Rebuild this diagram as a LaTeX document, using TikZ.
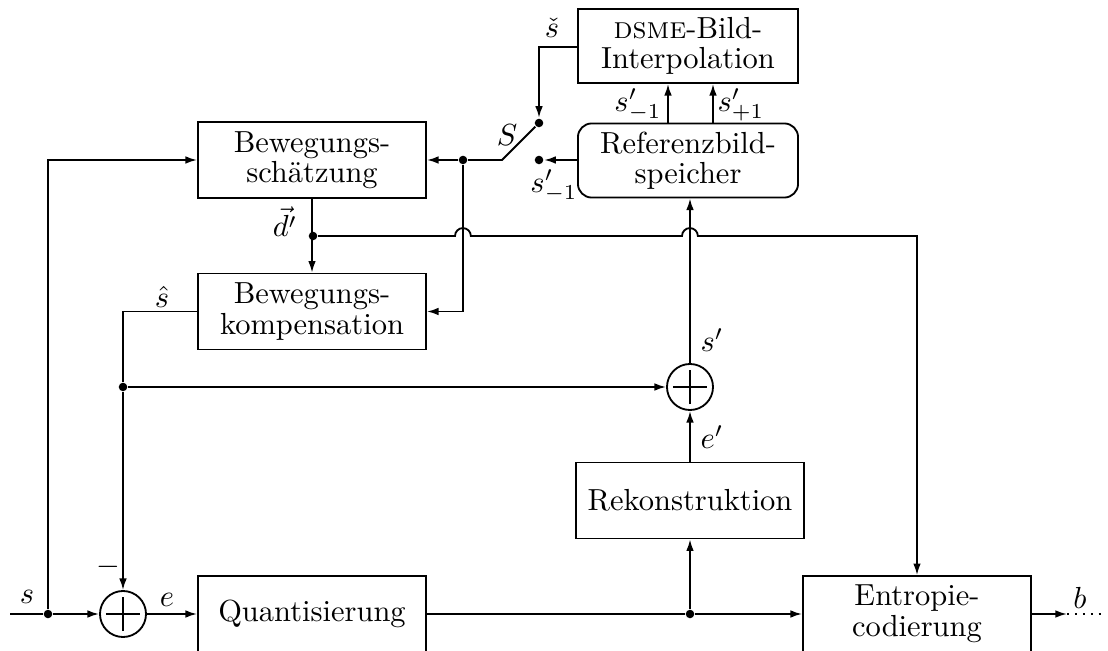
\documentclass[tikz,border=0pt]{standalone}
\usetikzlibrary{arrows.meta}
\begin{document}
\begin{tikzpicture}[x=0.328pt,y=-0.328pt,line width=0.6pt,
  >={Latex[length=3.8pt,width=2.5pt]},
  every node/.style={font=\fontsize{10pt}{10pt}\selectfont},
  block/.style={draw,rectangle,minimum width=74.8pt,minimum height=24.9pt,align=center,inner sep=0pt},
  topblock/.style={block,minimum width=72.2pt,minimum height=24.3pt},
  store/.style={topblock,rounded corners=4.5pt},
  sumnode/.style={circle,draw,minimum size=15.1pt,inner sep=0pt,
    path picture={
      \draw ([xshift=-5.6pt]path picture bounding box.center) -- ([xshift=5.6pt]path picture bounding box.center);
      \draw ([yshift=-5.6pt]path picture bounding box.center) -- ([yshift=5.6pt]path picture bounding box.center);}},
  dot/.style={circle,fill,inner sep=0pt,minimum size=2.8pt},
  lbl/.style={inner sep=0pt},
  hop/.style={insert path={arc[start angle=180,end angle=0,radius=2.6pt]}}]
\useasboundingbox (0,0) rectangle (1108,651);

% blocks
\node[block] (bs) at (312,160) {Bewegungs-\\schätzung};
\node[block] (bk) at (312,311.5) {Bewegungs-\\kompensation};
\node[block] (quant) at (312,614) {Quantisierung};
\node[block] (rek) at (690,500.5) {Rekonstruktion};
\node[block] (ent) at (917,614) {Entropie-\\codierung};
\node[topblock] (dsme) at (688,46) {\textsc{dsme}-Bild-\\Interpolation};
\node[store] (ref) at (688,160.5) {Referenzbild-\\speicher};
\node[sumnode] (sum1) at (123,614) {};
\node[sumnode] (sum2) at (690,387) {};

% junctions and switch contacts
\coordinate (in) at (10,614);
\node[dot] (j1) at (48,614) {};
\node[dot] (j2) at (690,614) {};
\node[dot] (j3) at (313,236) {};
\node[dot] (j4) at (123,387) {};
\node[dot] (c0) at (463,160) {};
\node[dot] (c1) at (539,123) {};
\node[dot] (c2) at (539,160) {};
\coordinate (blade) at (502,160);
\coordinate (out) at (1067,614);
\coordinate (outend) at (1102,614);

% input path
\draw (in) -- (j1);
\draw[->] (j1) -- (sum1.west);
\draw[->] (j1) |- (bs.west);
\draw[->] (sum1.east) -- (quant.west);
\draw (quant.east) -- (j2);
\draw[->] (j2) -- (ent.west);
\draw[->] (j2) -- (rek.south);
\draw[->] (rek.north) -- (sum2.south);
\draw[->] (sum2.north) -- (sum2.north |- ref.south);

% reference memory and interpolation
\draw[->] (ref.north -| 668,0) -- (dsme.south -| 668,0);
\draw[->] (ref.north -| 713,0) -- (dsme.south -| 713,0);
\draw[->] (ref.west |- c2) -- (c2);
\draw[->] (dsme.west |- 0,47) -| (c1);
\draw (c0) -- (blade) -- (c1);

% motion estimation and compensation
\draw[->] (c0) -- (bs.east);
\draw[->] (c0) |- (bk.east);
\draw[->] (bs.south) -- (bk.north);
\draw (j3) -- (455,236) [hop] -- (682,236) [hop] -| (917,560);
\draw[->] (917,560) -- (ent.north);
\draw (bk.west) -| (j4);
\draw[->] (j4) -- (sum1.north);
\draw[->] (j4) -- (sum2.west);

% output
\draw[->] (ent.east) -- (out);
\draw[dotted] (out) -- (outend);

% labels
\node[lbl] at (27,597) {$s$};
\node[lbl] at (108,567) {$-$};
\node[lbl] at (167,600) {$e$};
\node[lbl] at (162,297) {$\hat{s}$};
\node[lbl] at (285,222) {$\vec{d'}$};
\node[lbl] at (552,28) {$\check{s}$};
\node[lbl] at (507,135) {$S$};
\node[lbl] at (554,186) {$s'_{-1}$};
\node[lbl] at (638,105) {$s'_{-1}$};
\node[lbl] at (741,105) {$s'_{+1}$};
\node[lbl] at (712,340) {$s'$};
\node[lbl] at (712,437) {$e'$};
\node[lbl] at (1080,598) {$b$};
\end{tikzpicture}
\end{document}
